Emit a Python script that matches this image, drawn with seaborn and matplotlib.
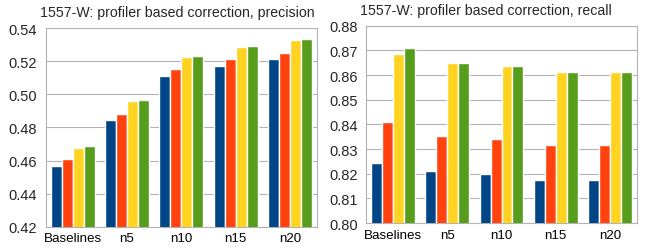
import numpy as np
import pandas as pd
import seaborn as sns
import matplotlib.pyplot as plt

# data

categories = ["Baselines", "n5", "n10", "n15", "n20"]
series = ["s1", "s2", "s3", "s4"]

precision_s1 = [0.4567, 0.4845, 0.5111, 0.5172, 0.5214]
precision_s2 = [0.4609, 0.4881, 0.5154, 0.5214, 0.5250]
precision_s3 = [0.4676, 0.4960, 0.5226, 0.5287, 0.5329]
precision_s4 = [0.4688, 0.4966, 0.5232, 0.5293, 0.5335]

recall_s1 = [0.8243, 0.8211, 0.8200, 0.8174, 0.8174]
recall_s2 = [0.8409, 0.8353, 0.8341, 0.8316, 0.8316]
recall_s3 = [0.8685, 0.8649, 0.8636, 0.8612, 0.8612]
recall_s4 = [0.8709, 0.8649, 0.8636, 0.8612, 0.8612]

colors = ["#004586", "#ff420e", "#ffd320", "#579d1c"]


def to_long(cols):
    rows = []
    for s, vals in zip(series, cols):
        for c, v in zip(categories, vals):
            rows.append({"category": c, "series": s, "value": v})
    return pd.DataFrame(rows)


prec = to_long([precision_s1, precision_s2, precision_s3, precision_s4])
rec = to_long([recall_s1, recall_s2, recall_s3, recall_s4])

sns.set_style("white")
plt.rcParams['font.family'] = ['Liberation Sans', 'DejaVu Sans']

fig = plt.figure(figsize=(6.5, 2.53), dpi=100)
ax1 = fig.add_axes([45.7 / 650, 1 - 227.7 / 253, (317 - 45.7) / 650, (227.7 - 29.3) / 253])
ax2 = fig.add_axes([366 / 650, 1 - 224 / 253, (637 - 366) / 650, (224 - 26.7) / 253])

setup = [
    (ax1, prec, (0.42, 0.54), np.arange(0.42, 0.5401, 0.02), 0.485, "1557-W: profiler based correction, precision"),
    (ax2, rec, (0.80, 0.88), np.arange(0.80, 0.8801, 0.01), 0.441, "1557-W: profiler based correction, recall"),
]

for ax, df, ylim, yt, tx, title in setup:
    sns.barplot(data=df, x="category", y="value", hue="series", palette=colors,
                width=0.81, saturation=1, legend=False, ax=ax, zorder=3)
    ax.set_ylim(*ylim)
    ax.set_xlim(-0.5, len(categories) - 0.5)
    ax.set_yticks(yt)
    ax.set_yticklabels([f"{v:.2f}" for v in yt])
    ax.grid(axis="y", color="#b3b3b3", linewidth=0.8, zorder=0)
    ax.set_axisbelow(True)
    for sp in ax.spines.values():
        sp.set_color("#b3b3b3")
        sp.set_linewidth(0.8)
    ax.set_xlabel("")
    ax.set_ylabel("")
    ax.tick_params(axis="x", length=0, labelsize=9.6, pad=4, colors="black")
    ax.tick_params(axis="y", length=4, color="#b3b3b3", labelsize=10.5, pad=2)
    ax.set_xticks(np.arange(-0.5, len(categories)), minor=True)
    ax.tick_params(axis="x", which="minor", length=4, color="#b3b3b3", direction="out")
    ax.set_title(title, fontsize=10.2, pad=8.5, x=tx)

fig.savefig("out.png", dpi=100)
